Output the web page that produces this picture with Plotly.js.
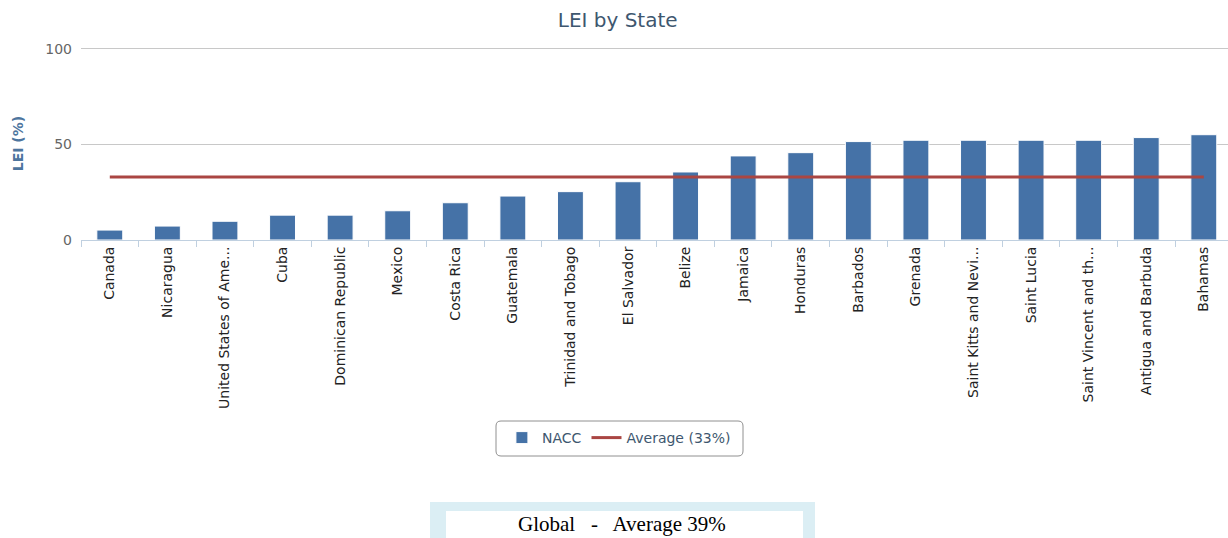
<!DOCTYPE html>
<html>
<head>
<meta charset="utf-8">
<script src="https://cdn.plot.ly/plotly-3.0.1.min.js"></script>
<style>html,body{margin:0;padding:0;background:#fff;}#chart{width:1228px;height:538px;}</style>
</head>
<body>
<div id="chart"></div>
<script>
const states = ["Canada","Nicaragua","United States of Ame...","Cuba","Dominican Republic","Mexico","Costa Rica","Guatemala","Trinidad and Tobago","El Salvador","Belize","Jamaica","Honduras","Barbados","Grenada","Saint Kitts and Nevi...","Saint Lucia","Saint Vincent and th...","Antigua and Barbuda","Bahamas"];
const lei = [5.2, 7.3, 9.8, 13, 13, 15.3, 19.5, 23, 25.3, 30.5, 35.6, 44, 45.7, 51.5, 52.2, 52.2, 52.2, 52.2, 53.6, 55.1];
const averageValue = 33;
const averageLabel = "Average (33%)";
const seriesName = "NACC";
const yTicks = [0, 50, 100];
const globalText = "Global   -   Average 39%";

// pixel helpers for paper-referenced decorations (plot area: x 81..1228, y 47..240)
const PL = 81, PR = 1228, PT = 47, PB = 240;
const px = v => (v - PL) / (PR - PL);
const py = v => (PB - v) / (PB - PT);

function roundedRect(x0, y0, x1, y1, r) {
  const X = px, Y = py;
  const rx = r / (PR - PL), ry = r / (PB - PT);
  const a = X(x0), b = X(x1), top = Y(y0), bot = Y(y1);
  return `M ${a + rx} ${top} L ${b - rx} ${top} Q ${b} ${top} ${b} ${top - ry} ` +
         `L ${b} ${bot + ry} Q ${b} ${bot} ${b - rx} ${bot} L ${a + rx} ${bot} ` +
         `Q ${a} ${bot} ${a} ${bot + ry} L ${a} ${top - ry} Q ${a} ${top} ${a + rx} ${top} Z`;
}

const barTrace = {
  type: "bar", x: states, y: lei, name: seriesName,
  width: 0.45,
  marker: {color: "#4572A7", line: {color: "#ffffff", width: 1}},
  hoverinfo: "x+y"
};
const avgTrace = {
  type: "scatter", mode: "lines", x: states, y: states.map(() => averageValue),
  name: averageLabel,
  line: {color: "#AA4643", width: 3}
};

const layout = {
  width: 1228, height: 538,
  margin: {l: PL, r: 1228 - PR, t: PT, b: 538 - PB},
  paper_bgcolor: "#ffffff", plot_bgcolor: "#ffffff",
  font: {family: "DejaVu Sans, Verdana, sans-serif"},
  title: {text: "LEI by State", x: 0.503, xref: "container", y: 0.963, yref: "container", yanchor: "middle",
          font: {size: 20, color: "#3E576F", family: "DejaVu Sans, Verdana, sans-serif"}},
  xaxis: {
    type: "category", tickangle: -90, range: [-0.5, 19.42],
    ticks: "outside", tickson: "boundaries", ticklen: 6, tickcolor: "#C0D0E0", tickwidth: 1,
    showline: true, linecolor: "#C0D0E0", linewidth: 1,
    showgrid: false, tickfont: {size: 14, color: "#222", family: "DejaVu Sans, sans-serif"},
    automargin: false
  },
  yaxis: {
    range: [0, 101], tickvals: yTicks, ticktext: yTicks.map(String),
    showgrid: true, gridcolor: "#C8C8C8", gridwidth: 1, zeroline: false,
    showline: false, ticks: "", ticklabelstandoff: 8,
    tickfont: {size: 14, color: "#666666"},
    title: {text: "<b>LEI (%)</b>", font: {size: 14, color: "#4D759E"}, standoff: 18},
    automargin: false
  },
  showlegend: true,
  legend: {
    orientation: "h", xref: "container", yref: "container",
    x: 0.504, xanchor: "center", y: 1 - 422/538, yanchor: "top",
    borderwidth: 0, bgcolor: "rgba(0,0,0,0)",
    font: {size: 14, color: "#3E576F"}, itemwidth: 30, tracegroupgap: 0
  },
  shapes: [
    {type: "path", xref: "paper", yref: "paper", path: roundedRect(496, 421, 743, 456, 5),
     fillcolor: "#ffffff", line: {color: "#909090", width: 1}, layer: "below"},
    {type: "rect", xref: "paper", yref: "paper",
     x0: px(430), x1: px(815), y0: py(538), y1: py(502),
     fillcolor: "#DBEEF4", line: {width: 0}, layer: "below"},
    {type: "rect", xref: "paper", yref: "paper",
     x0: px(446), x1: px(803), y0: py(538), y1: py(511),
     fillcolor: "#ffffff", line: {width: 0}, layer: "below"}
  ],
  annotations: [
    {xref: "paper", yref: "paper", x: px(622), y: py(524),
     text: globalText, showarrow: false, xanchor: "center", yanchor: "middle",
     font: {family: "Liberation Serif, Times New Roman, serif", size: 21, color: "#000"}}
  ],
  bargap: 0.2
};

Plotly.newPlot("chart", [barTrace, avgTrace], layout, {displayModeBar: false, staticPlot: true});
</script>
</body>
</html>
